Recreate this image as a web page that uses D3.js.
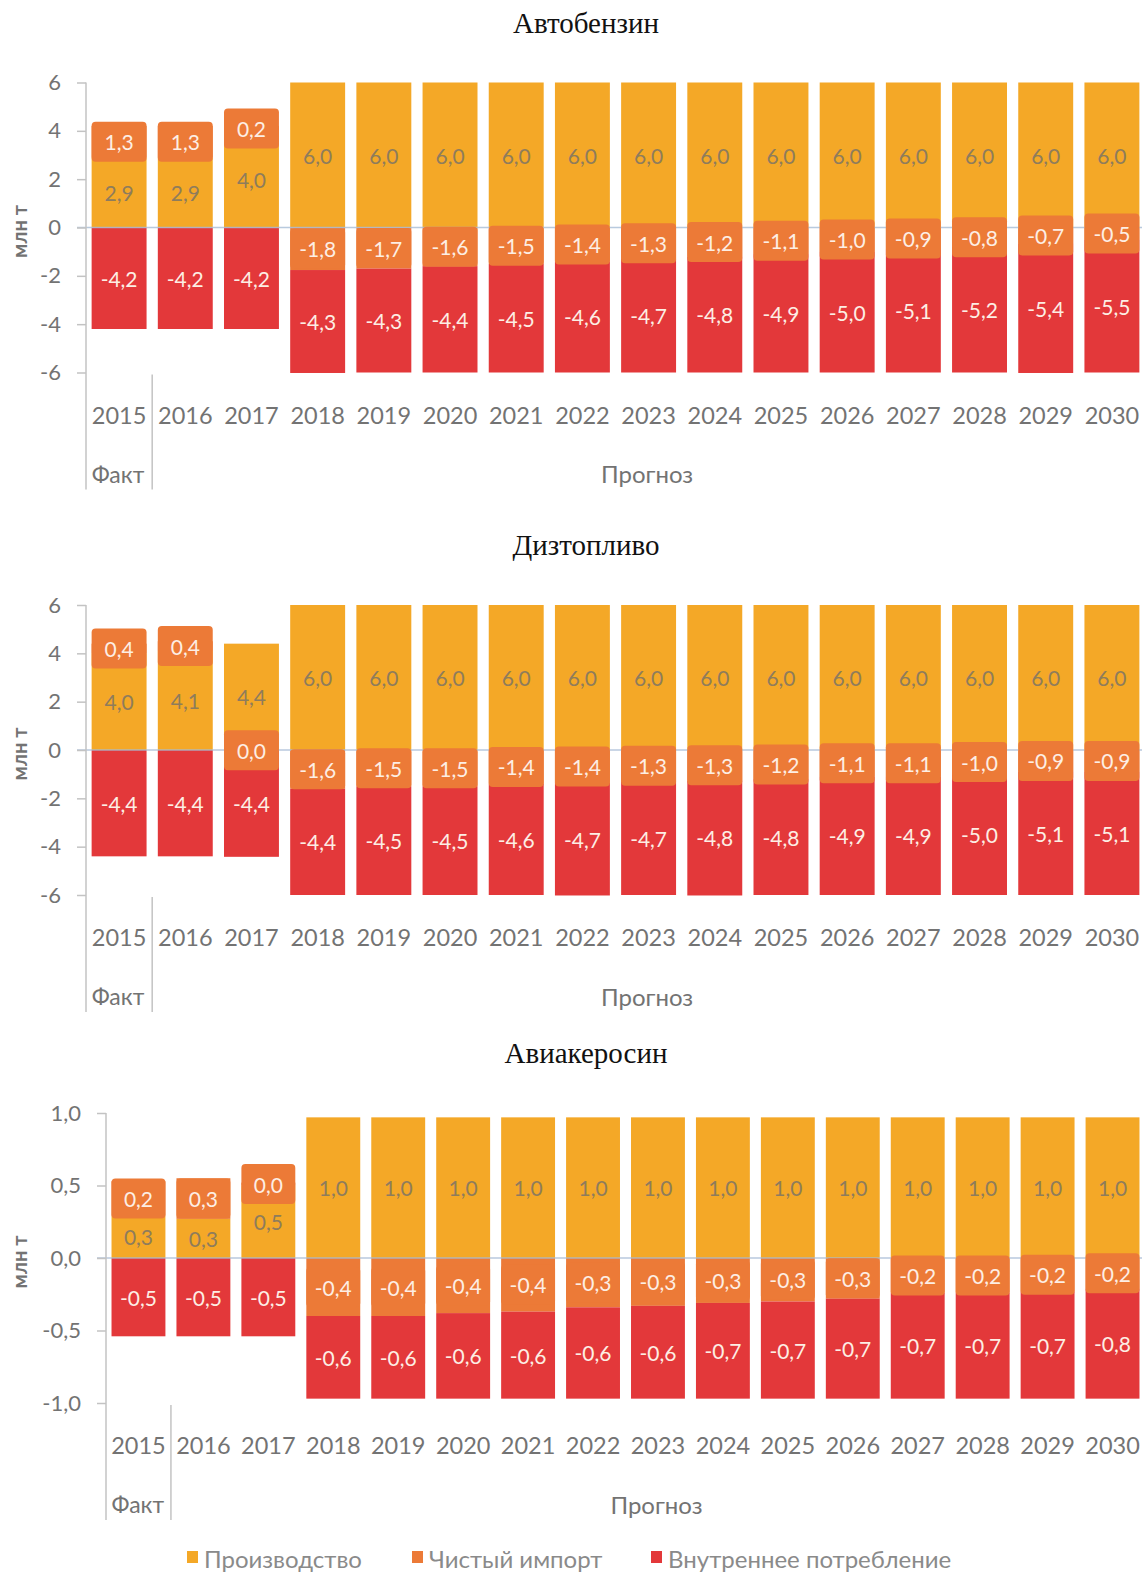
<!DOCTYPE html>
<html lang="ru">
<head>
    <meta charset="UTF-8">
    <title>Автобензин, дизтопливо, авиакеросин</title>
    <script src="https://d3js.org/d3.v7.min.js"></script>
    <style>
        body { margin: 0; background: #fff; }
        svg { display: block; }
    </style>
</head>
<body>
    <svg width="1142" height="1574"></svg>

    <script>
        // years (2015-2017 fact, 2018-2030 forecast)
        const years = [2015, 2016, 2017, 2018, 2019, 2020, 2021, 2022, 2023, 2024, 2025, 2026, 2027, 2028, 2029, 2030];

        // Автобензин, млн т (labels are rounded to 0.1)
        const gasProd = [2.9, 2.9, 4.0, 6.0, 6.0, 6.0, 6.0, 6.0, 6.0, 6.0, 6.0, 6.0, 6.0, 6.0, 6.0, 6.0];
        const gasImport = [1.3, 1.3, 0.2, -1.76, -1.7, -1.6, -1.5, -1.4, -1.3, -1.2, -1.1, -1.0, -0.9, -0.8, -0.66, -0.5];
        const gasCons = [-4.2, -4.2, -4.2, -4.26, -4.3, -4.4, -4.5, -4.6, -4.7, -4.8, -4.9, -5.0, -5.1, -5.2, -5.36, -5.5];

        // Дизтопливо, млн т
        const dieselProd = [4.0, 4.1, 4.4, 6.0, 6.0, 6.0, 6.0, 6.0, 6.0, 6.0, 6.0, 6.0, 6.0, 6.0, 6.0, 6.0];
        const dieselImport = [0.4, 0.4, -0.02, -1.6, -1.5, -1.5, -1.4, -1.36, -1.3, -1.26, -1.2, -1.1, -1.1, -1.0, -0.9, -0.9];
        const dieselCons = [-4.4, -4.4, -4.4, -4.4, -4.5, -4.5, -4.6, -4.66, -4.7, -4.76, -4.8, -4.9, -4.9, -5.0, -5.1, -5.1];

        // Авиакеросин, млн т
        const jetProd = [0.29, 0.27, 0.5, 0.97, 0.97, 0.97, 0.97, 0.97, 0.97, 0.97, 0.97, 0.97, 0.97, 0.97, 0.97, 0.97];
        const jetImport = [0.24, 0.28, 0.02, -0.4, -0.4, -0.38, -0.37, -0.34, -0.33, -0.31, -0.3, -0.28, -0.24, -0.24, -0.23, -0.21];
        const jetCons = [-0.54, -0.54, -0.54, -0.57, -0.57, -0.59, -0.6, -0.63, -0.64, -0.66, -0.67, -0.69, -0.73, -0.73, -0.74, -0.76];

        const gasTicks = [-6, -4, -2, 0, 2, 4, 6];
        const jetTicks = [-1.0, -0.5, 0.0, 0.5, 1.0];

        const seriesNames = ["Производство", "Чистый импорт", "Внутреннее потребление"];
        const colors = ["#f4a827", "#ec7a37", "#e3383a"];

        const ru = d3.formatLocale({ decimal: ",", thousands: " ", grouping: [3], currency: ["", ""], minus: "-" });
        const fmt1 = ru.format(".1f");
        const fmt0 = ru.format(".0f");

        const W = 1142;
        const svg = d3.select("svg");
        const axisColor = "#c3c3c3";
        const textColor = "#737373";
        const sans = "Lato, 'Open Sans', sans-serif";

        const panels = [
            { title: "Автобензин", prod: gasProd, imp: gasImport, cons: gasCons,
              domain: [-6, 6], ticks: gasTicks, tickFmt: fmt0, top: 82.5, left: 86 },
            { title: "Дизтопливо", prod: dieselProd, imp: dieselImport, cons: dieselCons,
              domain: [-6, 6], ticks: gasTicks, tickFmt: fmt0, top: 605, left: 86 },
            { title: "Авиакеросин", prod: jetProd, imp: jetImport, cons: jetCons,
              domain: [-1, 1], ticks: jetTicks, tickFmt: fmt1, top: 1113, left: 106 }
        ];

        const plotH = 290;

        panels.forEach(p => {
            const g = svg.append("g");
            const bottom = p.top + plotH;

            const x = d3.scaleBand()
                .domain(years)
                .range([p.left, 1145])
                .paddingInner(0.17)
                .paddingOuter(0.085);

            const y = d3.scaleLinear()
                .domain(p.domain)
                .range([bottom, p.top]);

            // title
            g.append("text")
                .attr("x", 586)
                .attr("y", p.top - 60)
                .attr("text-anchor", "middle")
                .attr("dominant-baseline", "central")
                .attr("font-family", "'Liberation Serif', 'DejaVu Serif', serif")
                .attr("font-size", 29)
                .attr("fill", "#111")
                .text(p.title);

            // y axis title
            g.append("text")
                .attr("transform", `translate(19, ${y(0) + 4}) rotate(-90)`)
                .attr("text-anchor", "middle")
                .attr("dominant-baseline", "central")
                .attr("font-family", sans)
                .attr("font-weight", "bold")
                .attr("font-size", 20)
                .attr("fill", textColor)
                .text("млн т");

            // stacked data
            const rows = years.map((yr, i) => ({ year: yr, prod: p.prod[i], imp: p.imp[i], cons: p.cons[i] }));
            const stacked = d3.stack()
                .keys(["prod", "imp", "cons"])
                .offset(d3.stackOffsetDiverging)(rows);

            stacked.forEach((s, k) => {
                g.append("g")
                    .selectAll("rect")
                    .data(s)
                    .join("rect")
                    .attr("x", d => x(d.data.year))
                    .attr("width", x.bandwidth())
                    .attr("y", d => y(Math.max(d[0], d[1])))
                    .attr("height", d => Math.abs(y(d[0]) - y(d[1])))
                    .attr("fill", colors[k]);
            });

            // zero line
            g.append("line")
                .attr("x1", p.left - 9)
                .attr("x2", W)
                .attr("y1", y(0))
                .attr("y2", y(0))
                .attr("stroke", "#a7bdd6")
                .attr("stroke-width", 1.5)
                .attr("opacity", 0.8);

            const mid = d => y((d[0] + d[1]) / 2);

            // production labels
            g.append("g")
                .selectAll("text")
                .data(stacked[0])
                .join("text")
                .attr("x", d => x(d.data.year) + x.bandwidth() / 2)
                .attr("y", mid)
                .attr("text-anchor", "middle")
                .attr("dominant-baseline", "central")
                .attr("font-family", sans)
                .attr("font-size", 21)
                .attr("fill", "#8e7c5c")
                .text(d => fmt1(d.data.prod));

            // net import callouts
            const callout = g.append("g")
                .selectAll("g")
                .data(stacked[1])
                .join("g")
                .attr("transform", d => `translate(${x(d.data.year)}, ${mid(d)})`);

            callout.append("rect")
                .attr("x", 0)
                .attr("y", -20)
                .attr("width", x.bandwidth())
                .attr("height", 40)
                .attr("rx", 4)
                .attr("fill", colors[1]);

            callout.append("text")
                .attr("x", x.bandwidth() / 2)
                .attr("y", 0)
                .attr("text-anchor", "middle")
                .attr("dominant-baseline", "central")
                .attr("font-family", sans)
                .attr("font-size", 21)
                .attr("fill", "#fdeee4")
                .text(d => fmt1(d.data.imp));

            // consumption labels
            g.append("g")
                .selectAll("text")
                .data(stacked[2])
                .join("text")
                .attr("x", d => x(d.data.year) + x.bandwidth() / 2)
                .attr("y", mid)
                .attr("text-anchor", "middle")
                .attr("dominant-baseline", "central")
                .attr("font-family", sans)
                .attr("font-size", 21)
                .attr("fill", "#fdeee4")
                .text(d => fmt1(d.data.cons));

            // y axis
            const yAxis = g.append("g")
                .attr("transform", `translate(${p.left}, 0)`)
                .call(d3.axisLeft(y).tickValues(p.ticks).tickSize(9).tickPadding(16).tickFormat(p.tickFmt));
            yAxis.select(".domain").remove();
            yAxis.selectAll(".tick line").attr("stroke", axisColor).attr("stroke-width", 1.5);
            yAxis.selectAll(".tick text")
                .attr("font-family", sans)
                .attr("font-size", 22)
                .attr("fill", textColor);

            // axis line running down into the category area, plus fact/forecast divider
            const sepX = x(years[1]) - x.step() * x.paddingInner() / 2;
            g.append("line")
                .attr("x1", p.left).attr("x2", p.left)
                .attr("y1", p.top).attr("y2", bottom + 117)
                .attr("stroke", axisColor).attr("stroke-width", 1.5);
            g.append("line")
                .attr("x1", sepX).attr("x2", sepX)
                .attr("y1", bottom + 2).attr("y2", bottom + 117)
                .attr("stroke", axisColor).attr("stroke-width", 1.5);

            // year labels
            g.append("g")
                .selectAll("text")
                .data(years)
                .join("text")
                .attr("x", d => x(d) + x.bandwidth() / 2)
                .attr("y", bottom + 42)
                .attr("text-anchor", "middle")
                .attr("dominant-baseline", "central")
                .attr("font-family", sans)
                .attr("font-size", 23.5)
                .attr("fill", textColor)
                .text(d => d);

            g.append("text")
                .attr("x", x(years[0]))
                .attr("y", bottom + 101)
                .attr("dominant-baseline", "central")
                .attr("font-family", sans)
                .attr("font-size", 23)
                .attr("fill", textColor)
                .text("Факт");

            g.append("text")
                .attr("x", (sepX + W) / 2)
                .attr("y", bottom + 101)
                .attr("text-anchor", "middle")
                .attr("dominant-baseline", "central")
                .attr("font-family", sans)
                .attr("font-size", 24)
                .attr("fill", textColor)
                .text("Прогноз");
        });

        // legend
        const legendX = [187, 412, 651];
        const legend = svg.append("g")
            .selectAll("g")
            .data(seriesNames)
            .join("g")
            .attr("transform", (d, i) => `translate(${legendX[i]}, 1557)`);

        legend.append("rect")
            .attr("x", 0).attr("y", -6)
            .attr("width", 11).attr("height", 12)
            .attr("fill", (d, i) => colors[i]);

        legend.append("text")
            .attr("x", 17)
            .attr("y", 1)
            .attr("dominant-baseline", "central")
            .attr("font-family", sans)
            .attr("font-size", 24)
            .attr("fill", "#8a8a8a")
            .text(d => d);
    </script>
</body>
</html>
